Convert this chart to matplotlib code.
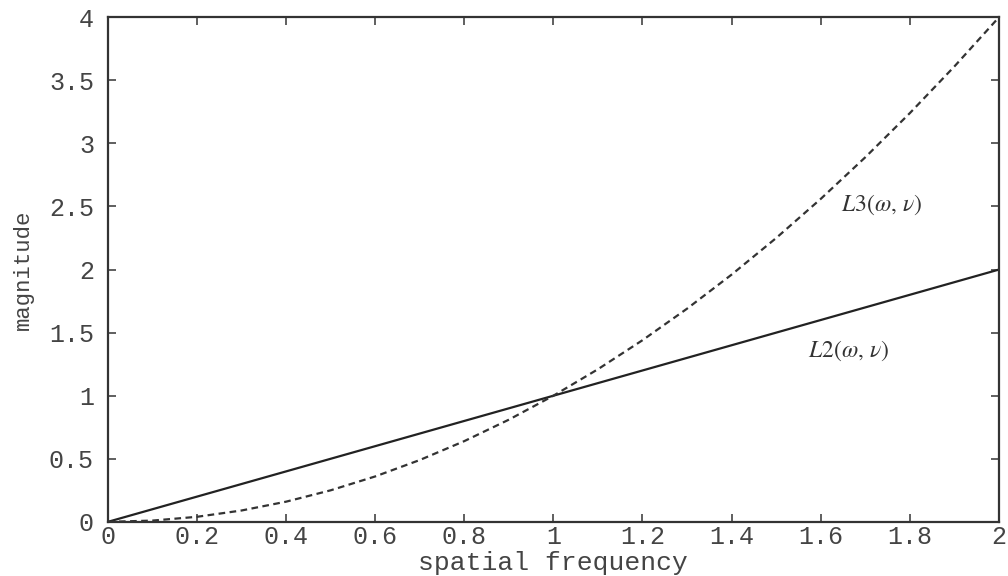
import matplotlib
matplotlib.use('Agg')
from matplotlib import pyplot as plt

freq = [0.0, 0.1, 0.2, 0.3, 0.4, 0.5, 0.6, 0.7, 0.8, 0.9, 1.0,
        1.1, 1.2, 1.3, 1.4, 1.5, 1.6, 1.7, 1.8, 1.9, 2.0]
l2 = [0.0, 0.1, 0.2, 0.3, 0.4, 0.5, 0.6, 0.7, 0.8, 0.9, 1.0,
      1.1, 1.2, 1.3, 1.4, 1.5, 1.6, 1.7, 1.8, 1.9, 2.0]
l3 = [0.0, 0.01, 0.04, 0.09, 0.16, 0.25, 0.36, 0.49, 0.64, 0.81, 1.0,
      1.21, 1.44, 1.69, 1.96, 2.25, 2.56, 2.89, 3.24, 3.61, 4.0]
xticks = [0, 0.2, 0.4, 0.6, 0.8, 1, 1.2, 1.4, 1.6, 1.8, 2]
xtick_labels = ['0', '0.2', '0.4', '0.6', '0.8', '1', '1.2', '1.4', '1.6', '1.8', '2']
yticks = [0, 0.5, 1, 1.5, 2, 2.5, 3, 3.5, 4]
ytick_labels = ['0', '0.5', '1', '1.5', '2', '2.5', '3', '3.5', '4']

plt.rcParams['font.family'] = ['Liberation Mono', 'DejaVu Sans Mono']
plt.rcParams['mathtext.fontset'] = 'stix'

fig = plt.figure(figsize=(10.08, 5.76), dpi=100)
ax = fig.add_axes([0.107, 0.094, 0.884, 0.876])

ax.plot(freq, l2, '-', color='#222222', lw=1.6)
ax.plot(freq, l3, color='#333333', lw=1.6, linestyle=(0, (3, 2)))

ax.set_xlim(0, 2)
ax.set_ylim(0, 4)
ax.set_xticks(xticks)
ax.set_xticklabels(xtick_labels)
ax.set_yticks(yticks)
ax.set_yticklabels(ytick_labels)
ax.tick_params(direction='in', top=True, right=True, length=6, width=1.2,
               labelsize=18, colors='#444444')
ax.tick_params(axis='x', pad=2)
ax.tick_params(axis='y', pad=10)
for s in ax.spines.values():
    s.set_linewidth(1.6)
    s.set_color('#333333')

ax.set_xlabel('spatial frequency', fontsize=19, color='#444444', va='bottom')
ax.xaxis.set_label_coords(0.5, -0.106)
ax.set_ylabel('magnitude', fontsize=16, color='#444444', va='center')
ax.yaxis.set_label_coords(-0.095, 0.5)

ax.text(1.645, 2.51, r'$L3(\omega,\,\nu)$', fontsize=17, color='#333333', va='center')
ax.text(1.572, 1.36, r'$L2(\omega,\,\nu)$', fontsize=17, color='#333333', va='center')

fig.savefig('out.png', dpi=100, facecolor='white')
